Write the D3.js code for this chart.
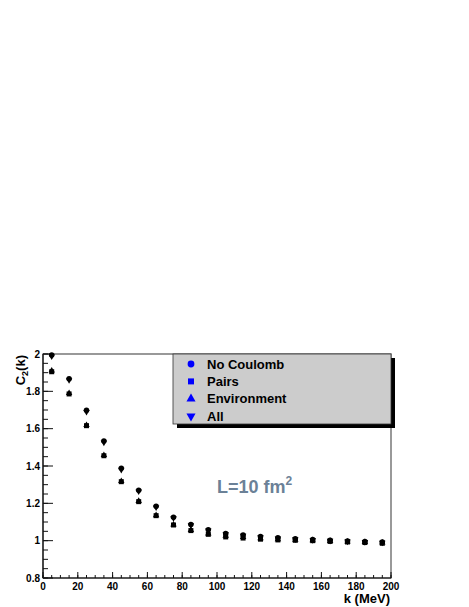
<!DOCTYPE html>
<html>
<head>
<meta charset="utf-8">
<script src="https://cdn.jsdelivr.net/npm/d3@7"></script>
<style>
  body { margin: 0; background: #fff; }
  svg { display: block; font-family: "Liberation Sans", Arial, sans-serif; }
</style>
</head>
<body>
<div id="chart"></div>
<script>
// k bins (MeV)
const kValues = [5, 15, 25, 35, 45, 55, 65, 75, 85, 95, 105, 115, 125, 135, 145, 155, 165, 175, 185, 195];

const noCoulomb = [1.995, 1.868, 1.698, 1.534, 1.388, 1.27, 1.184, 1.125, 1.086, 1.058, 1.038, 1.03, 1.022, 1.015, 1.01, 1.006, 1.002, 0.998, 0.995, 0.993];
const allCorr = [1.988, 1.86, 1.69, 1.526, 1.38, 1.264, 1.179, 1.121, 1.083, 1.055, 1.035, 1.027, 1.019, 1.013, 1.008, 1.004, 1.0, 0.996, 0.993, 0.99];
const pairs = [1.905, 1.786, 1.616, 1.455, 1.316, 1.209, 1.134, 1.084, 1.054, 1.034, 1.02, 1.014, 1.008, 1.004, 1.002, 1.0, 0.996, 0.993, 0.99, 0.986];
const environment = [1.911, 1.79, 1.619, 1.458, 1.319, 1.212, 1.136, 1.086, 1.056, 1.038, 1.026, 1.019, 1.012, 1.007, 1.004, 1.002, 0.998, 0.995, 0.992, 0.989];

const seriesNames = ["No Coulomb", "Pairs", "Environment", "All"];
const seriesSymbols = [d3.symbolCircle, d3.symbolSquare, d3.symbolTriangle, "down"];

const width = 469;
const height = 607;
const marginLeft = 43;
const marginRight = 78;  // frame right edge at 391
const marginTop = 354;
const marginBottom = 29; // frame bottom at 578

const svg = d3.create("svg")
  .attr("viewBox", [0, 0, width, height])
  .attr("width", width)
  .attr("height", height);

const x = d3.scaleLinear().domain([0, 200]).range([marginLeft, width - marginRight]);
const y = d3.scaleLinear().domain([0.8, 2.0]).range([height - marginBottom, marginTop]);

// Frame (top/right)
svg.append("rect")
  .attr("x", x(0))
  .attr("y", y(2))
  .attr("width", x(200) - x(0))
  .attr("height", y(0.8) - y(2))
  .attr("fill", "none")
  .attr("stroke", "#555")
  .attr("stroke-width", 1.2);

// Y axis: ticks inward
const yMajor = d3.range(0.8, 2.0001, 0.2);
const yMinor = d3.range(0.8, 2.0001, 0.05);
const yAxis = svg.append("g");
yAxis.append("line")
  .attr("x1", x(0)).attr("x2", x(0))
  .attr("y1", y(0.8)).attr("y2", y(2))
  .attr("stroke", "#111").attr("stroke-width", 1.2);
yAxis.selectAll("line.minor")
  .data(yMinor)
  .join("line")
  .attr("class", "minor")
  .attr("x1", x(0)).attr("x2", x(0) + 5)
  .attr("y1", (d) => y(d)).attr("y2", (d) => y(d))
  .attr("stroke", "#111");
yAxis.selectAll("line.major")
  .data(yMajor)
  .join("line")
  .attr("class", "major")
  .attr("x1", x(0)).attr("x2", x(0) + 10)
  .attr("y1", (d) => y(d)).attr("y2", (d) => y(d))
  .attr("stroke", "#111");
yAxis.selectAll("text")
  .data(yMajor)
  .join("text")
  .attr("x", x(0) - 3)
  .attr("y", (d) => y(d))
  .attr("dy", "0.35em")
  .attr("text-anchor", "end")
  .attr("font-size", 10)
  .attr("font-weight", "bold")
  .text((d) => d3.format("~g")(+d.toFixed(2)));

// X axis: ticks inward
const xMajor = d3.range(0, 201, 20);
const xMinor = d3.range(0, 201, 5);
const xAxis = svg.append("g");
xAxis.append("line")
  .attr("x1", x(0)).attr("x2", x(200))
  .attr("y1", y(0.8)).attr("y2", y(0.8))
  .attr("stroke", "#111").attr("stroke-width", 1.2);
xAxis.selectAll("line.minor")
  .data(xMinor)
  .join("line")
  .attr("class", "minor")
  .attr("x1", (d) => x(d)).attr("x2", (d) => x(d))
  .attr("y1", y(0.8)).attr("y2", y(0.8) - 3)
  .attr("stroke", "#111");
xAxis.selectAll("line.major")
  .data(xMajor)
  .join("line")
  .attr("class", "major")
  .attr("x1", (d) => x(d)).attr("x2", (d) => x(d))
  .attr("y1", y(0.8)).attr("y2", y(0.8) - 6)
  .attr("stroke", "#111");
xAxis.selectAll("text")
  .data(xMajor)
  .join("text")
  .attr("x", (d) => x(d))
  .attr("y", y(0.8) + 12)
  .attr("text-anchor", "middle")
  .attr("font-size", 10)
  .attr("font-weight", "bold")
  .text((d) => d);

// Axis titles
svg.append("text")
  .attr("x", x(200) - 1)
  .attr("y", 603)
  .attr("text-anchor", "end")
  .attr("font-size", 13)
  .attr("font-weight", "bold")
  .text("k (MeV)");

const yTitle = svg.append("text")
  .attr("transform", `translate(25,${y(2) + 1}) rotate(-90)`)
  .attr("text-anchor", "end")
  .attr("font-size", 13)
  .attr("font-weight", "bold");
yTitle.append("tspan").text("C");
yTitle.append("tspan").attr("font-size", 9).attr("dy", 3).text("2");
yTitle.append("tspan").attr("dy", -3).text("(k)");

// Markers
const symbolPath = (s, size) =>
  s === "down"
    ? d3.symbol().type(d3.symbolTriangle).size(size)()
    : d3.symbol().type(s).size(size)();

const allSeries = [
  { name: "Environment", values: environment, sym: d3.symbolTriangle, size: 18, rot: 0 },
  { name: "All", values: allCorr, sym: d3.symbolTriangle, size: 18, rot: 180 },
  { name: "Pairs", values: pairs, sym: d3.symbolSquare, size: 25, rot: 0 },
  { name: "No Coulomb", values: noCoulomb, sym: d3.symbolCircle, size: 24, rot: 0 }
];

allSeries.forEach((s) => {
  svg.append("g")
    .selectAll("path")
    .data(kValues.map((k, i) => ({ k, v: s.values[i] })))
    .join("path")
    .attr("transform", (d) => `translate(${x(d.k)},${y(d.v)}) rotate(${s.rot})`)
    .attr("d", d3.symbol().type(s.sym).size(s.size))
    .attr("fill", "#000");
});

// Legend
const legX = 173, legY = 354, legW = 218, legH = 70;
svg.append("rect")
  .attr("x", legX + 4).attr("y", legY + 4)
  .attr("width", legW).attr("height", legH)
  .attr("fill", "#000");
svg.append("rect")
  .attr("x", legX).attr("y", legY)
  .attr("width", legW).attr("height", legH)
  .attr("fill", "#cccccc")
  .attr("stroke", "#333")
  .attr("stroke-width", 0.8);

const legendRows = svg.append("g")
  .selectAll("g")
  .data(seriesNames)
  .join("g")
  .attr("transform", (d, i) => `translate(${legX}, ${legY + 10 + i * 17.4})`);

legendRows.append("path")
  .attr("transform", (d, i) => `translate(18,0) rotate(${seriesSymbols[i] === "down" ? 180 : 0})`)
  .attr("d", (d, i) => symbolPath(seriesSymbols[i], 36))
  .attr("fill", "#0000ff");

legendRows.append("text")
  .attr("x", 34)
  .attr("dy", "0.35em")
  .attr("font-size", 13)
  .attr("font-weight", "bold")
  .attr("fill", "#000")
  .text((d) => d);

// Annotation
const ann = svg.append("text")
  .attr("x", 217)
  .attr("y", 493)
  .attr("font-size", 18)
  .attr("font-weight", "bold")
  .attr("fill", "#6b8197");
ann.append("tspan").text("L=10 fm");
ann.append("tspan").attr("font-size", 12).attr("dy", -8).text("2");

d3.select("#chart").append(() => svg.node());
</script>
</body>
</html>
